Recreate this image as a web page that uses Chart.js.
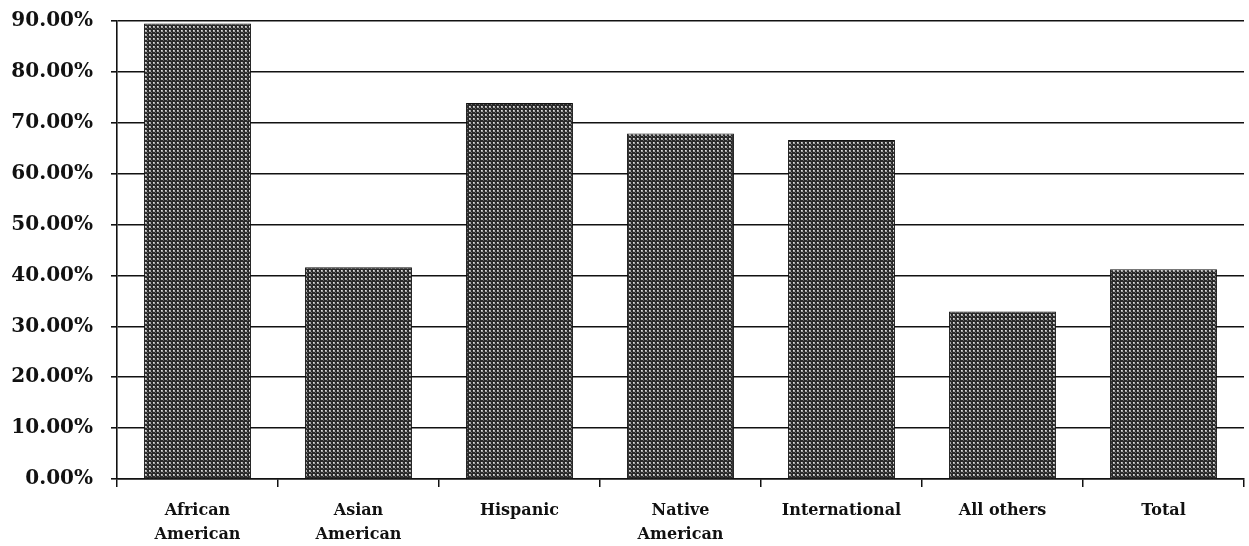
<!DOCTYPE html>
<html><head><meta charset="utf-8">
<script src="https://cdn.jsdelivr.net/npm/chart.js@4"></script>
<style>html,body{margin:0;padding:0;background:#fff;overflow:hidden}#wrap{width:1249px;height:546px;overflow:hidden;position:relative}#c{position:absolute;left:0;top:-7px}</style>
</head><body><div id="wrap"><canvas id="c" width="1249" height="553"></canvas></div>
<script>
const categories = [["African","American"],["Asian","American"],["Hispanic"],["Native","American"],["International"],["All others"],["Total"]];
const values = [89.5, 41.6, 73.9, 67.9, 66.6, 32.9, 41.2];
const yTicks = [0,10,20,30,40,50,60,70,80,90];

function makePattern(){
  const p = document.createElement('canvas');
  p.width = 4; p.height = 4;
  const g = p.getContext('2d');
  g.fillStyle = '#2a2a2a'; g.fillRect(0,0,4,4);
  g.fillStyle = '#a8a8a8'; g.fillRect(1,1,2,2);
  g.fillStyle = '#dddddd'; g.fillRect(1,1,1,1);
  g.fillStyle = '#6a6a6a'; g.fillRect(3,3,1,1);
  return document.getElementById('c').getContext('2d').createPattern(p,'repeat');
}
const serif = "'DejaVu Serif','Liberation Serif',serif";
new Chart(document.getElementById('c'), {
  type: 'bar',
  data: { labels: categories, datasets: [{ data: values, backgroundColor: makePattern(), borderColor: '#111', borderWidth: 1, categoryPercentage: 0.8, barPercentage: 0.83 }] },
  options: {
    responsive: false, animation: false,
    layout: { padding: { top: 0, right: 5, left: 0, bottom: 0 } },
    plugins: { legend: { display: false }, tooltip: { enabled: false } },
    scales: {
      x: {
        afterFit: s => { s.height = 67; },
        grid: { display: true, drawOnChartArea: false, color: '#111', lineWidth: 1.5, tickLength: 8, offset: true },
        border: { color: '#111', width: 1.6 },
        ticks: { color: '#111', font: { family: serif, size: 16, weight: 'bold', lineHeight: 1.5 }, maxRotation: 0, autoSkip: false, padding: 12 }
      },
      y: {
        min: 0, max: 90,
        afterBuildTicks: s => { s.ticks = yTicks.map(v => ({ value: v })); },
        afterFit: s => { s.width = 117; },
        grid: { color: '#111', lineWidth: 1.6, tickLength: 6 },
        border: { color: '#111', width: 1.6 },
        ticks: { color: '#111', font: { family: serif, size: 20, weight: 'bold', lineHeight: 1 }, padding: 18, callback: v => v.toFixed(2) + '%' }
      }
    }
  }
});
</script></body></html>
